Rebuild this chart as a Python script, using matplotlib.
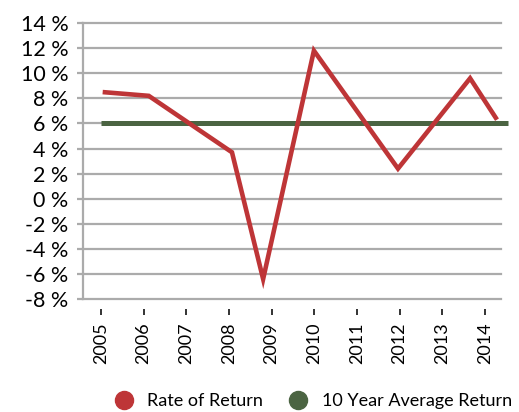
import matplotlib.pyplot as plt
from matplotlib.lines import Line2D

# data
roky = [2005, 2006, 2007, 2008, 2009, 2010, 2011, 2012, 2013, 2014]
vynos_x = [2005.04, 2006.12, 2008.07, 2008.80, 2009.99, 2011.96, 2013.65, 2014.28]
vynos_y = [8.5, 8.2, 3.7, -6.4, 11.8, 2.4, 9.6, 6.3]
priemer_x = [2005.0, 2014.54]
priemer_y = [6, 6]
y_ticks = [-8, -6, -4, -2, 0, 2, 4, 6, 8, 10, 12, 14]

cervena = "#BE3537"
zelena = "#4B6442"
seda = "#ABABAB"

plt.rcParams['font.family'] = ['Lato', 'DejaVu Sans']

fig = plt.figure(figsize=(5.19, 4.12), dpi=100)
ax = fig.add_axes([0.16, 0.274, 0.805, 0.67])

# osi (najprv pozicia spodnej osi, lebo resetuje ticky)
for s in ['top', 'right']:
    ax.spines[s].set_visible(False)
ax.spines['left'].set_color(seda)
ax.spines['left'].set_linewidth(1.6)
ax.spines['bottom'].set_position(('outward', 7))
ax.spines['bottom'].set_visible(False)

ax.plot(priemer_x, priemer_y, color=zelena, lw=3.6, solid_capstyle='butt', clip_on=False, zorder=3)
ax.plot(vynos_x, vynos_y, color=cervena, lw=3.3, solid_joinstyle='miter', solid_capstyle='butt', zorder=4)

ax.set_xlim(2004.58, 2014.37)
ax.set_ylim(-8, 14)
ax.set_yticks(y_ticks)
ax.set_yticklabels([f"{v} %" for v in y_ticks], fontsize=15.5)
ax.set_xticks(roky)
ax.set_xticklabels([str(r) for r in roky], rotation=90, fontsize=13)

# mriezka
ax.grid(axis='y', color=seda, lw=1.6, clip_on=False)
ax.set_axisbelow(True)
ax.tick_params(axis='y', length=4.5, width=1.6, color=seda, pad=6)
ax.tick_params(axis='x', length=4, width=1.4, color='#333333', pad=6)

# legenda
handles = [
    Line2D([], [], marker='o', ls='', color=cervena, markersize=13, label='Rate of Return'),
    Line2D([], [], marker='o', ls='', color=zelena, markersize=13, label='10 Year Average Return'),
]
fig.legend(handles=handles, loc='center', bbox_to_anchor=(0.595, 0.026), ncol=2, frameon=False,
           fontsize=13, handletextpad=0.3, columnspacing=0.95)

plt.savefig("out.png", dpi=100)
